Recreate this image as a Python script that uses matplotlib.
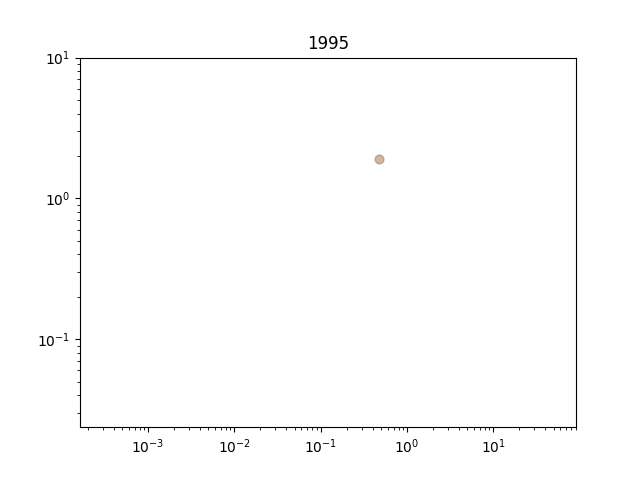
import matplotlib
matplotlib.use("Agg")
import matplotlib.pyplot as plt

year = "1995"
x_vals = [0.474]
y_vals = [1.90]

fig, ax = plt.subplots(figsize=(6.4, 4.8), dpi=100)
ax.scatter(x_vals, y_vals, color="#a0704f", alpha=0.5, s=40)
ax.set_xscale("log")
ax.set_yscale("log")
ax.set_xlim(1.63e-4, 91)
ax.set_ylim(0.0237, 10)
ax.set_title(year)
fig.savefig("out.png")
